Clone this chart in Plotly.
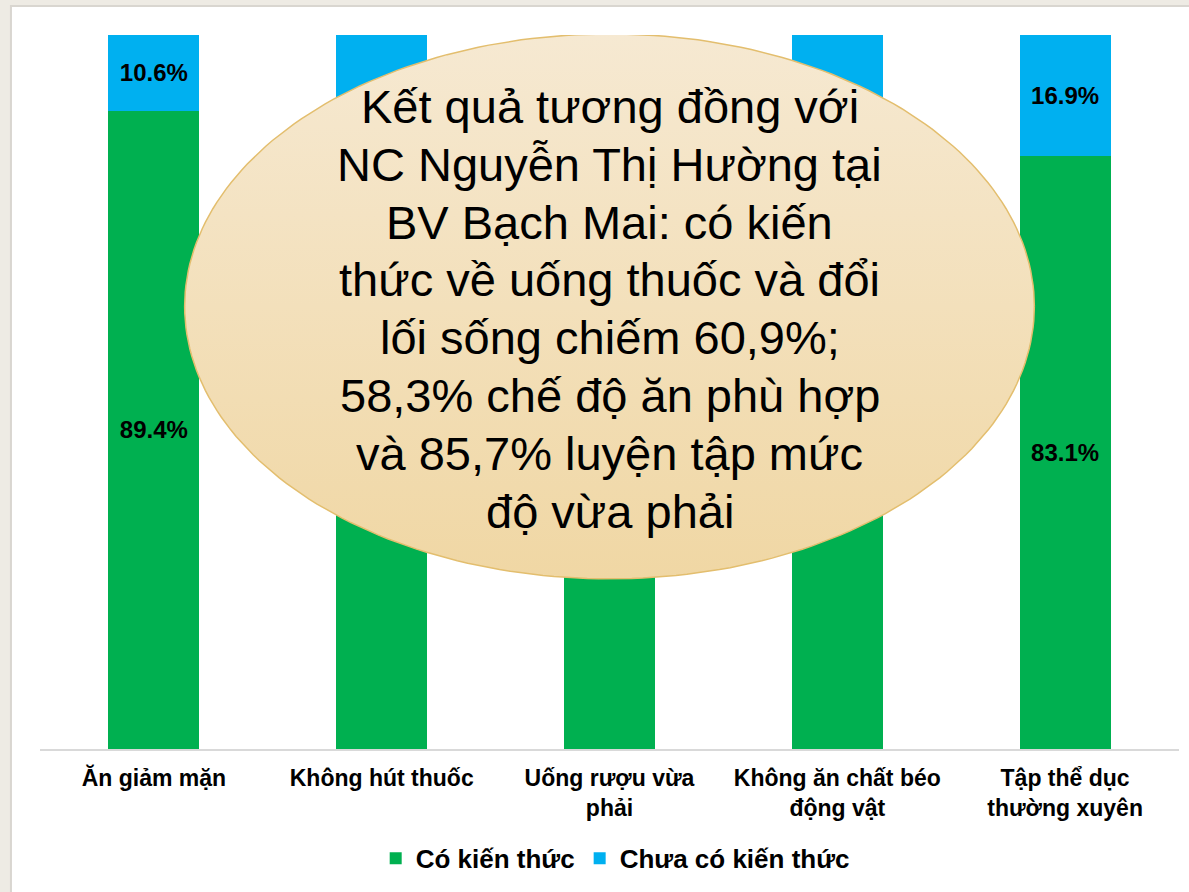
import numpy as np
import plotly.graph_objects as go

categories = [
    "Ăn giảm mặn",
    "Không hút thuốc",
    "Uống rượu vừa<br>phải",
    "Không ăn chất béo<br>động vật",
    "Tập thể dục<br>thường xuyên",
]
co_kien_thuc = [89.4, 80.2, 70.0, 76.5, 83.1]
chua_co_kien_thuc = [10.6, 19.8, 30.0, 23.5, 16.9]
# labels of the middle bars sit behind the callout, so they are not shown
label_visible = [True, False, False, False, True]

note_lines = [
    "Kết quả tương đồng với",
    "NC Nguyễn Thị Hường tại",
    "BV Bạch Mai: có kiến",
    "thức về uống thuốc và đổi",
    "lối sống chiếm 60,9%;",
    "58,3% chế độ ăn phù hợp",
    "và 85,7% luyện tập mức",
    "độ vừa phải",
]

GREEN = "#00B050"
BLUE = "#00B0F0"
FONT = "Liberation Sans, Arial, sans-serif"


def labels(vals):
    return [f"{v:.1f}%" if show else "" for v, show in zip(vals, label_visible)]


fig = go.Figure()
for name, vals, color in [("Có kiến thức", co_kien_thuc, GREEN),
                          ("Chưa có kiến thức", chua_co_kien_thuc, BLUE)]:
    fig.add_trace(go.Bar(
        x=categories, y=vals, name=name,
        marker=dict(color=color, line=dict(width=0)),
        text=labels(vals), textposition="inside", insidetextanchor="middle",
        textangle=0, constraintext="none",
        textfont=dict(family=FONT, size=24, color="black", weight=700),
    ))

# callout ellipse on its own axes drawn over the bars, with a soft vertical gradient
t = np.linspace(0, 2 * np.pi, 241)
fig.add_trace(go.Scatter(
    x=0.5 + 0.5 * np.cos(t), y=0.5 + 0.5 * np.sin(t),
    xaxis="x2", yaxis="y2", mode="lines", fill="toself",
    line=dict(color="#E3BE6E", width=1.5),
    fillgradient=dict(type="vertical",
                      colorscale=[[0, "#F0D7A4"], [1, "#F6E9D2"]]),
    showlegend=False, hoverinfo="skip",
))

# one annotation per line so the line pitch can be set (~58 px)
plot_h = 714
for i, line in enumerate(note_lines):
    fig.add_annotation(xref="paper", yref="paper", x=0.5,
                       y=(714 - (71.5 + 57.8 * i)) / plot_h,
                       text=line, showarrow=False,
                       xanchor="center", yanchor="middle",
                       font=dict(family=FONT, size=47, color="black"))

# slide panel (white) on beige page
fig.add_shape(type="rect", xref="paper", yref="paper",
              x0=-0.0255, x1=1.01, y0=-0.21, y1=1.0406,
              fillcolor="white", line=dict(color="#D9D6D0", width=2), layer="below")

fig.update_layout(
    width=1189, height=892,
    barmode="stack", bargap=0.6,
    paper_bgcolor="#EEEBE4", plot_bgcolor="rgba(0,0,0,0)",
    margin=dict(l=40, r=10, t=35, b=143),
    font=dict(family=FONT, color="black"),
    showlegend=True,
    legend=dict(orientation="h", x=0.505, xanchor="center", y=-0.153, yanchor="middle",
                font=dict(family=FONT, size=26, color="black", weight=700),
                bgcolor="rgba(0,0,0,0)", traceorder="normal"),
    xaxis=dict(type="category", showline=True, linecolor="#D9D9D9", linewidth=2,
               ticks="", showgrid=False, ticklabelstandoff=7,
               tickfont=dict(family=FONT, size=23, color="black", weight=700)),
    yaxis=dict(range=[0, 100], visible=False, showgrid=False, zeroline=False),
    xaxis2=dict(domain=[0.1255, 0.8745], range=[-0.002, 1.002], visible=False, anchor="y2"),
    yaxis2=dict(domain=[0.236, 1.0], range=[-0.003, 0.998], visible=False, anchor="x2"),
)

fig.write_html("out.html", config={"displayModeBar": False},
               post_script="document.body.style.margin='0';")
